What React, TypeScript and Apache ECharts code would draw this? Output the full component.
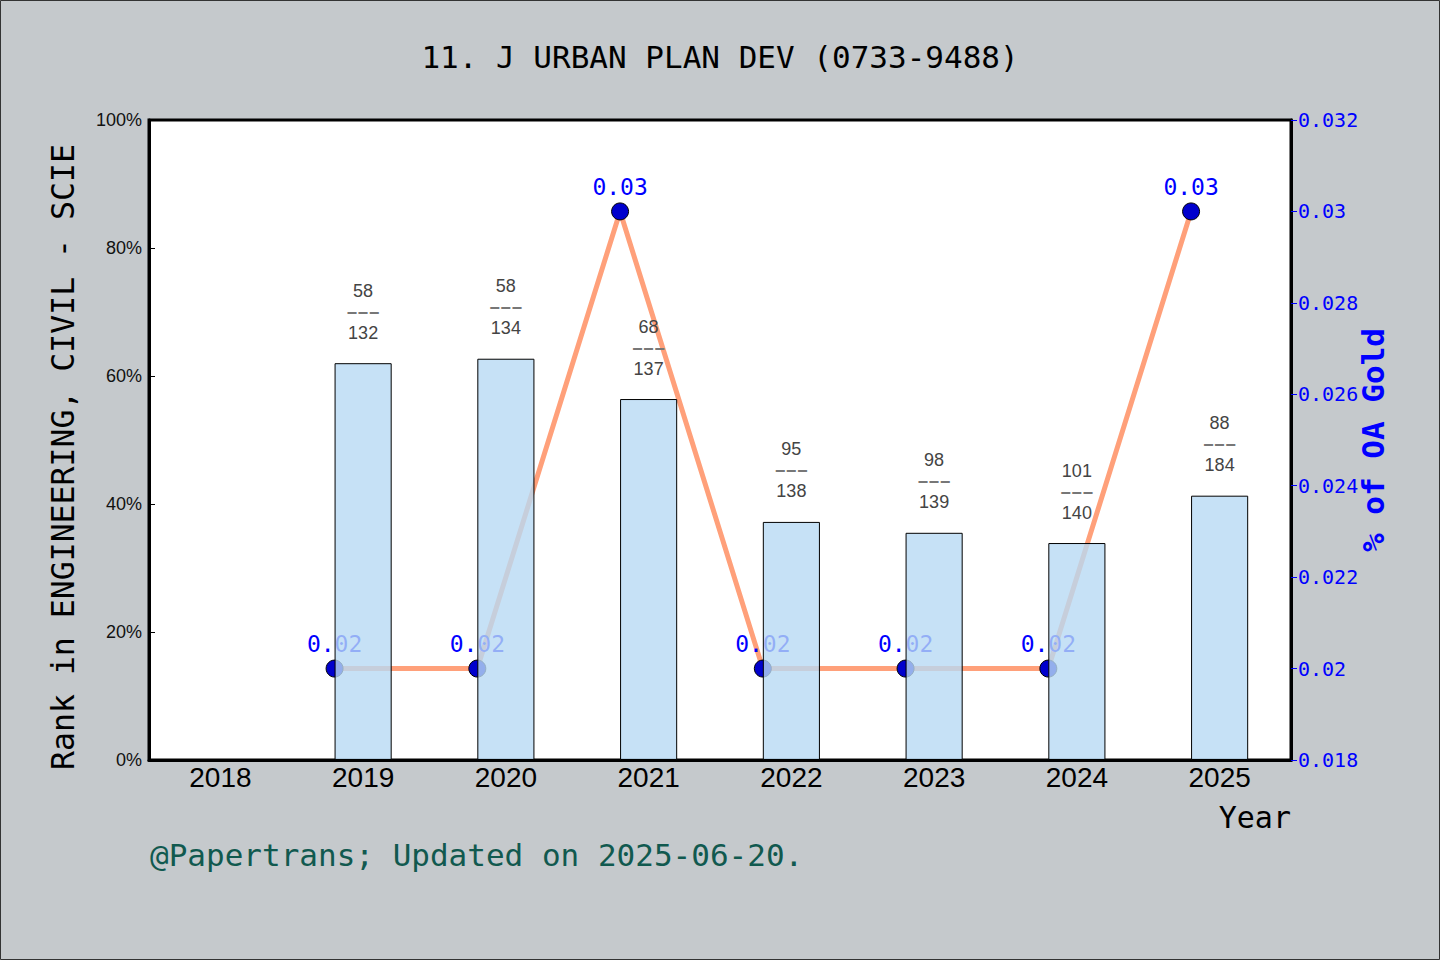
import { useEffect, useRef } from 'react';
import * as echarts from 'echarts';

const years = ['2018', '2019', '2020', '2021', '2022', '2023', '2024', '2025'];
// rank percentile bars (left axis), null = no data
const rankPct = [null, 0.62, 0.627, 0.564, 0.372, 0.355, 0.339, 0.413];
const rankNum = [null, 58, 58, 68, 95, 98, 101, 88];
const rankTotal = [null, 132, 134, 137, 138, 139, 140, 184];
// % of OA Gold (right axis)
const oaGold = [null, 0.02, 0.02, 0.03, 0.02, 0.02, 0.02, 0.03];

const MONO = '"DejaVu Sans Mono", monospace';
const SANS = '"Liberation Sans", Arial, sans-serif';
const BAR_W = 0.4; // fraction of a category

export default function App() {
  const chartRef = useRef<HTMLDivElement>(null);

  useEffect(() => {
    document.body.style.margin = '0';
    if (!chartRef.current) return;
    const chart = echarts.init(chartRef.current, undefined, { renderer: 'svg' });

    const barData = rankPct.map((v) => (v == null ? '-' : v));
    // line points sit at the left edge of each bar
    const lineData = oaGold
      .map((v, i) => (v == null ? null : [i - BAR_W / 2, v]))
      .filter((d) => d !== null);

    chart.setOption({
      animation: false,
      backgroundColor: '#c5c9cc',
      title: {
        text: '11. J URBAN PLAN DEV (0733-9488)',
        left: 'center',
        top: 36,
        textStyle: { fontFamily: MONO, fontSize: 31, fontWeight: 'normal', color: '#000' },
      },
      graphic: [
        {
          type: 'rect',
          shape: { x: 0.5, y: 0.5, width: 1439, height: 959 },
          style: { fill: 'none', stroke: '#333', lineWidth: 1 },
          silent: true,
        },
        {
          type: 'text',
          x: 150,
          y: 855,
          style: {
            text: '@Papertrans; Updated on 2025-06-20.',
            font: `31px ${MONO}`,
            fill: '#11594f',
            verticalAlign: 'middle',
          },
        },
      ],
      grid: {
        show: true,
        left: 149,
        right: 149,
        top: 120,
        bottom: 200,
        backgroundColor: '#fff',
        borderColor: '#000',
        borderWidth: 3,
      },
      xAxis: [
        {
          type: 'category',
          data: years,
          boundaryGap: true,
          name: 'Year',
          nameLocation: 'end',
          nameGap: 0,
          nameTextStyle: {
            fontFamily: MONO,
            fontSize: 30,
            color: '#000',
            align: 'right',
            verticalAlign: 'top',
            padding: [42, 0, 0, 0],
          },
          axisLine: { onZero: false, lineStyle: { color: '#000', width: 3 } },
          axisTick: { inside: true, length: 6, lineStyle: { color: '#000' } },
          axisLabel: { fontFamily: SANS, fontSize: 28, color: '#000', margin: 3 },
        },
        {
          type: 'value',
          min: -0.5,
          max: 7.5,
          show: false,
          axisLine: { onZero: false },
        },
      ],
      yAxis: [
        {
          type: 'value',
          position: 'left',
          min: 0,
          max: 1,
          interval: 0.2,
          name: 'Rank in ENGINEERING, CIVIL - SCIE',
          nameLocation: 'middle',
          nameRotate: 90,
          nameGap: 70,
          nameTextStyle: { fontFamily: MONO, fontSize: 31.5, color: '#000', padding: [0, 34, 0, 0] },
          axisLine: { show: true, onZero: false, lineStyle: { color: '#000', width: 3 } },
          axisTick: { show: true, inside: true, length: 6, lineStyle: { color: '#000' } },
          axisLabel: {
            fontFamily: SANS,
            fontSize: 18,
            color: '#111',
            margin: 7,
            formatter: (v: number) => `${Math.round(v * 100)}%`,
          },
          splitLine: { show: false },
        },
        {
          type: 'value',
          position: 'right',
          min: 0.018,
          max: 0.032,
          interval: 0.002,
          name: '% of OA Gold',
          nameLocation: 'middle',
          nameRotate: 90,
          nameGap: 66,
          nameMoveOverlap: false,
          nameTextStyle: { fontFamily: MONO, fontSize: 31, color: '#0000ff', fontWeight: 'bold' },
          axisLine: { show: true, onZero: false, lineStyle: { color: '#000', width: 3 } },
          axisTick: { show: true, inside: false, length: 6, lineStyle: { color: '#0000ff' } },
          axisLabel: { fontFamily: MONO, fontSize: 20, color: '#0000ff', margin: 7 },
          splitLine: { show: false },
        },
      ],
      series: [
        {
          type: 'line',
          xAxisIndex: 1,
          yAxisIndex: 1,
          data: lineData,
          z: 2,
          lineStyle: { color: '#ffa07a', width: 5 },
          symbol: 'circle',
          symbolSize: 17,
          itemStyle: { color: '#0000cd', borderColor: '#000', borderWidth: 1 },
          label: {
            show: true,
            position: 'top',
            distance: 4,
            fontFamily: MONO,
            fontSize: 23,
            color: '#0000ff',
            formatter: (p: any) => `${p.value[1]}`,
          },
        },
        {
          type: 'bar',
          xAxisIndex: 0,
          yAxisIndex: 0,
          data: barData,
          z: 3,
          barWidth: `${BAR_W * 100}%`,
          itemStyle: { color: 'rgba(184,217,244,0.8)', borderColor: '#000', borderWidth: 1 },
          label: {
            show: true,
            position: 'top',
            distance: 20,
            formatter: (p: any) =>
              `{n|${rankNum[p.dataIndex]}}\n{d|\u2013}{d|\u2013}{d|\u2013}\n{n|${rankTotal[p.dataIndex]}}`,
            rich: {
              n: { fontFamily: SANS, fontSize: 18, color: '#444', lineHeight: 21 },
              d: {
                fontFamily: MONO,
                fontSize: 15,
                fontWeight: 'bold',
                color: '#777',
                lineHeight: 21,
                padding: [0, 1, 0, 1],
              },
            },
          },
        },
      ],
    });

    return () => chart.dispose();
  }, []);

  return <div ref={chartRef} style={{ width: 1440, height: 960 }} />;
}
